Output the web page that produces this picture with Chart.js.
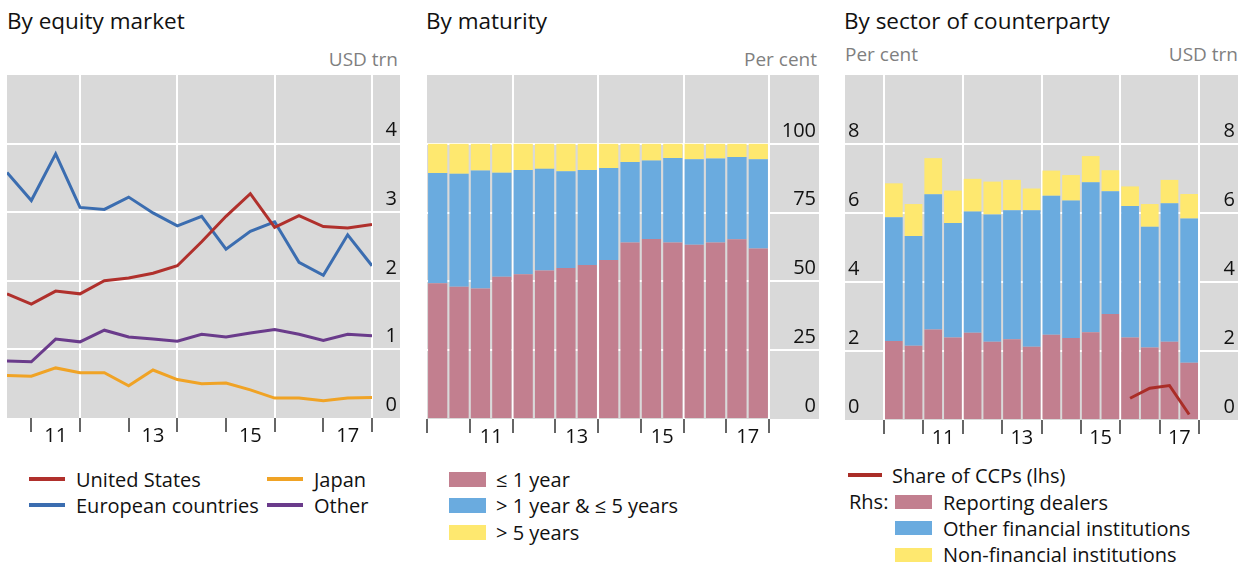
<!DOCTYPE html>
<html>
<head>
<meta charset="utf-8">
<script src="https://cdn.jsdelivr.net/npm/chart.js@4/dist/chart.umd.min.js"></script>
<style>
  body { margin: 0; width: 1250px; height: 564px; position: relative; overflow: hidden; background: #fff;
         font-family: 'Open Sans', sans-serif; color: #111; }
  .title { position: absolute; top: 10px; font-size: 22.5px; line-height: 1; white-space: nowrap; }
  .unit { position: absolute; font-size: 19px; line-height: 1; color: #7f7f7f; white-space: nowrap; }
  canvas { position: absolute; top: 60px; }
  .legend { position: absolute; font-size: 20px; white-space: nowrap; }
  .row { display: flex; align-items: center; }
  .line-key { display: inline-block; height: 4px; }
  .box-key { display: inline-block; }
</style>
</head>
<body>

<div class="title" style="left:7px">By equity market</div>
<div class="unit" style="right:852px; top:50px">USD trn</div>
<canvas id="equity" width="410" height="390" style="left:0"></canvas>
<div class="legend" id="legend-equity" style="left:29px; top:466px; display:grid; grid-template-rows:26px 26px; grid-auto-flow:column; grid-template-columns:238px auto;"></div>

<div class="title" style="left:426px">By maturity</div>
<div class="unit" style="right:433px; top:50px">Per cent</div>
<canvas id="maturity" width="410" height="390" style="left:415px"></canvas>
<div class="legend" id="legend-maturity" style="left:449px; top:466px;"></div>

<div class="title" style="left:844px">By sector of counterparty</div>
<div class="unit" style="left:845px; top:45px">Per cent</div>
<div class="unit" style="right:12px; top:45px">USD trn</div>
<canvas id="sector" width="415" height="390" style="left:835px"></canvas>
<div class="legend" id="legend-sector" style="left:848px; top:461px;"></div>

<script>
// Half-yearly observations, end-June and end-December
const periods = ['Jun 10', 'Dec 10', 'Jun 11', 'Dec 11', 'Jun 12', 'Dec 12', 'Jun 13', 'Dec 13',
                 'Jun 14', 'Dec 14', 'Jun 15', 'Dec 15', 'Jun 16', 'Dec 16', 'Jun 17', 'Dec 17'];

// By equity market, USD trn
const unitedStates = [1.81, 1.66, 1.85, 1.81, 2.00, 2.04, 2.11, 2.22, 2.57, 2.94, 3.27, 2.78, 2.95, 2.79, 2.77, 2.82];
const europeanCountries = [3.58, 3.17, 3.85, 3.07, 3.04, 3.22, 2.99, 2.80, 2.94, 2.46, 2.72, 2.86, 2.27, 2.08, 2.67, 2.22];
const japan = [0.62, 0.61, 0.73, 0.66, 0.66, 0.47, 0.70, 0.56, 0.50, 0.51, 0.41, 0.29, 0.29, 0.25, 0.29, 0.30];
const otherMarkets = [0.83, 0.82, 1.15, 1.11, 1.28, 1.18, 1.15, 1.12, 1.22, 1.18, 1.24, 1.29, 1.22, 1.13, 1.22, 1.20];

// By maturity, per cent of total
const upToOneYear = [49.3, 48.1, 47.4, 51.7, 52.6, 54.0, 54.9, 56.0, 57.8, 64.1, 65.4, 64.1, 63.3, 64.1, 65.3, 62.0];
const oneToFiveYears = [40.1, 41.0, 42.9, 37.8, 37.9, 36.9, 35.1, 34.5, 33.4, 29.3, 28.5, 30.7, 31.1, 30.6, 29.9, 32.4];
const overFiveYears = [10.6, 10.9, 9.7, 10.5, 9.5, 9.1, 10.0, 9.5, 8.8, 6.6, 6.1, 5.2, 5.6, 5.3, 4.8, 5.6];

// By sector of counterparty, USD trn
const reportingDealers = [2.29, 2.15, 2.62, 2.39, 2.53, 2.27, 2.34, 2.12, 2.47, 2.38, 2.54, 3.07, 2.39, 2.10, 2.27, 1.66];
const otherFinancial = [3.59, 3.18, 3.92, 3.32, 3.51, 3.69, 3.74, 3.96, 4.03, 3.98, 4.35, 3.56, 3.81, 3.50, 4.01, 4.18];
const nonFinancial = [0.98, 0.93, 1.05, 0.94, 0.95, 0.95, 0.88, 0.63, 0.73, 0.74, 0.76, 0.61, 0.57, 0.66, 0.68, 0.71];
// Share of CCPs, per cent (reported from mid-2016 only)
const ccpPeriods = ['Jun 16', 'Dec 16', 'Jun 17', 'Dec 17'];
const ccpShare = [0.63, 0.92, 1.00, 0.16];

const GREY = '#d9d9d9';
const NONE = 'rgba(0,0,0,0)';

// decimal year: line points sit at the end of the half-year, bars in its middle
const halfStart = p => 2000 + Number(p.slice(4)) + (p.startsWith('Jun') ? 0 : 0.5);
const periodEnd = p => halfStart(p) + 0.5;
const periodMid = p => halfStart(p) + 0.25;
const points = (values, xs) => values.map((y, i) => ({ x: xs[i], y }));

Chart.defaults.font.family = "'Open Sans', sans-serif";
Chart.defaults.font.size = 20;
Chart.defaults.color = '#111';

// grey panel behind the plot, widened over the value axes
const panelBackground = {
  id: 'panelBackground',
  beforeDraw(chart) {
    const { ctx, chartArea } = chart;
    let left = chartArea.left, right = chartArea.right;
    Object.values(chart.scales).forEach(s => {
      if (s.axis !== 'y') return;
      if (s.position === 'left') left = Math.min(left, s.left - 3);
      if (s.position === 'right') right = Math.max(right, s.right + 3);
    });
    ctx.save();
    ctx.fillStyle = GREY;
    ctx.fillRect(left, chartArea.top, right - left, chartArea.bottom - chartArea.top);
    ctx.restore();
  }
};

// time axis: tick marks each year, white lines every second year, labels mid odd years
function timeAxis(min, max, lineAtMin) {
  const white = v => Number.isInteger(v) && v % 2 === 0 && (v > min || lineAtMin);
  return {
    type: 'linear', min, max, offset: false, stacked: true,
    border: { display: false },
    grid: {
      offset: false, lineWidth: 2, tickLength: 14, tickWidth: 1.5,
      color: c => white(c.tick.value) ? '#fff' : NONE,
      tickColor: c => Number.isInteger(c.tick.value) ? '#333' : NONE
    },
    ticks: {
      stepSize: 0.5, autoSkip: false, maxRotation: 0, padding: -8,
      callback: v => (v % 1 === 0.5 && Math.floor(v) % 2 === 1) ? String(Math.floor(v)).slice(2) : ''
    },
    afterFit: s => { s.height = 30; }
  };
}

// value axis with labels sitting just above each grid line
function valueAxis(position, max, step, width, drawOnChartArea) {
  const line = c => (c.tick.value === max || c.tick.value === 0) ? NONE : '#fff';
  return {
    position, min: 0, max,
    border: { display: false },
    grid: { lineWidth: 2, tickLength: width + 3, drawOnChartArea, color: line, tickColor: line },
    ticks: { stepSize: step, crossAlign: 'far', labelOffset: -13, callback: v => v === max ? '' : v },
    afterFit: s => { s.width = width; }
  };
}

const baseOptions = {
  responsive: false,
  animation: false,
  plugins: { legend: { display: false }, tooltip: { enabled: false } }
};

// By equity market
const equitySeries = [
  { label: 'United States', data: unitedStates, color: '#b0302c' },
  { label: 'European countries', data: europeanCountries, color: '#3b6db0' },
  { label: 'Japan', data: japan, color: '#f0a325' },
  { label: 'Other', data: otherMarkets, color: '#6a3b8b' }
];
const lineX = periods.map(periodEnd);

new Chart(document.getElementById('equity'), {
  type: 'line',
  data: {
    datasets: equitySeries.map(s => ({
      label: s.label, data: points(s.data, lineX), borderColor: s.color,
      borderWidth: 3, pointRadius: 0, tension: 0
    }))
  },
  options: {
    ...baseOptions,
    layout: { padding: { left: 7, right: 13, top: 13, bottom: 2 } },
    scales: {
      x: timeAxis(lineX[0], 2018, false),
      y: valueAxis('right', 5, 1, 25, true)
    }
  },
  plugins: [panelBackground]
});

// By maturity
const barX = periods.map(periodMid);
const maturitySeries = [
  { label: '≤ 1 year', data: upToOneYear, color: '#c27f8f' },
  { label: '> 1 year & ≤ 5 years', data: oneToFiveYears, color: '#6aabdf' },
  { label: '> 5 years', data: overFiveYears, color: '#fee86f' }
];

const maturityY = valueAxis('right', 125, 25, 47, true);
maturityY.stacked = true;
new Chart(document.getElementById('maturity'), {
  type: 'bar',
  data: {
    datasets: maturitySeries.map(s => ({
      label: s.label, data: points(s.data, barX), backgroundColor: s.color,
      barPercentage: 0.9, categoryPercentage: 1
    }))
  },
  options: {
    ...baseOptions,
    layout: { padding: { left: 12, right: 9, top: 13, bottom: 1 } },
    scales: {
      x: timeAxis(2010, 2018, false),
      y: maturityY
    }
  },
  plugins: [panelBackground]
});

// By sector of counterparty
const sectorSeries = [
  { label: 'Reporting dealers', data: reportingDealers, color: '#c27f8f' },
  { label: 'Other financial institutions', data: otherFinancial, color: '#6aabdf' },
  { label: 'Non-financial institutions', data: nonFinancial, color: '#fee86f' }
];
const ccpLabel = 'Share of CCPs (lhs)';
const ccpColor = '#aa2d27';

const sectorRight = valueAxis('right', 10, 2, 36, true);
sectorRight.stacked = true;
new Chart(document.getElementById('sector'), {
  type: 'bar',
  data: {
    datasets: [
      {
        type: 'line', label: ccpLabel, data: points(ccpShare, ccpPeriods.map(periodMid)),
        yAxisID: 'yL', borderColor: ccpColor, borderWidth: 3, pointRadius: 0, tension: 0, order: 0
      },
      ...sectorSeries.map(s => ({
        label: s.label, data: points(s.data, barX), backgroundColor: s.color, yAxisID: 'y',
        barPercentage: 0.9, categoryPercentage: 1, order: 1
      }))
    ]
  },
  options: {
    ...baseOptions,
    layout: { padding: { left: 13, right: 15, top: 14, bottom: 0 } },
    scales: {
      x: timeAxis(2010, 2018, true),
      yL: valueAxis('left', 10, 2, 36, false),
      y: sectorRight
    }
  },
  plugins: [panelBackground]
});

// Legends
function makeRow(parent, key, text, gap) {
  const row = document.createElement('div');
  row.className = 'row';
  key.style.marginRight = gap + 'px';
  row.appendChild(key);
  const span = document.createElement('span');
  span.textContent = text;
  row.appendChild(span);
  parent.appendChild(row);
  return row;
}
function lineKey(color, width) {
  const k = document.createElement('span');
  k.className = 'line-key';
  k.style.width = width + 'px';
  k.style.background = color;
  return k;
}
function boxKey(color, w, h) {
  const k = document.createElement('span');
  k.className = 'box-key';
  k.style.width = w + 'px';
  k.style.height = h + 'px';
  k.style.background = color;
  return k;
}

const equityLegend = document.getElementById('legend-equity');
equitySeries.forEach(s => makeRow(equityLegend, lineKey(s.color, 36), s.label, 11));

const maturityLegend = document.getElementById('legend-maturity');
maturitySeries.forEach(s => {
  const row = makeRow(maturityLegend, boxKey(s.color, 37, 15), s.label, 10);
  row.style.height = '26.5px';
});

const sectorLegend = document.getElementById('legend-sector');
const ccpRow = makeRow(sectorLegend, lineKey(ccpColor, 34), ccpLabel, 10);
ccpRow.style.height = '28px';
const rhs = document.createElement('div');
rhs.style.position = 'relative';
rhs.style.paddingLeft = '47px';
const rhsLabel = document.createElement('span');
rhsLabel.textContent = 'Rhs:';
rhsLabel.style.position = 'absolute';
rhsLabel.style.left = '1px';
rhsLabel.style.top = '0';
rhsLabel.style.lineHeight = '26px';
rhs.appendChild(rhsLabel);
sectorSeries.forEach(s => {
  const row = makeRow(rhs, boxKey(s.color, 37, 14), s.label, 11);
  row.style.height = '26.3px';
});
sectorLegend.appendChild(rhs);
document.querySelectorAll('.row').forEach(r => { if (!r.style.height) r.style.height = '26px'; });
</script>
</body>
</html>
